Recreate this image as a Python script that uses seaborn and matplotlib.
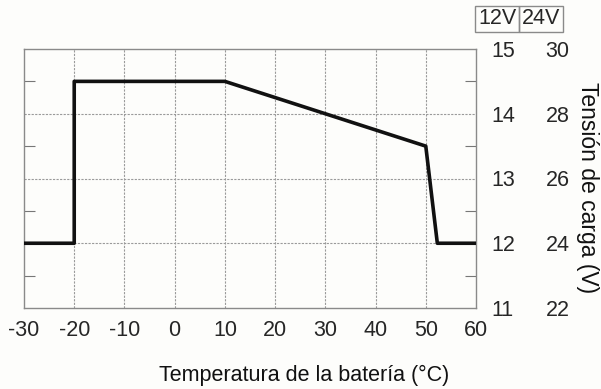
import matplotlib
matplotlib.use("Agg")
import numpy as np
import pandas as pd
import matplotlib.pyplot as plt
import seaborn as sns
from matplotlib.patches import Rectangle

# datos de la curva (tensión 12V vs temperatura)
temp = [-30, -20, -20, 10, 50, 52.3, 60]
volt12 = [12, 12, 14.5, 14.5, 13.5, 12, 12]

xticks = [-30, -20, -10, 0, 10, 20, 30, 40, 50, 60]
y12 = [11, 12, 13, 14, 15]
y24 = [22, 24, 26, 28, 30]
minor12 = [11.5, 12.5, 13.5, 14.5]

sns.set_style("white")
plt.rcParams["font.family"] = ["Liberation Sans", "DejaVu Sans"]

fs = 15.5
bg = "#fdfdfb"
fig = plt.figure(figsize=(6.01, 3.89), dpi=100, facecolor=bg)
ax = fig.add_axes([24 / 601, 1 - 308 / 389, 452 / 601, 259 / 389])
ax.set_facecolor(bg)

df = pd.DataFrame({"temp": temp, "v": volt12})
sns.lineplot(data=df, x="temp", y="v", sort=False, estimator=None,
             color="#111111", lw=2.6, ax=ax, zorder=5)

ax.set_xlim(-30, 60)
ax.set_ylim(11, 15)
ax.set_xticks(xticks)
ax.set_xticklabels([str(t) for t in xticks])
ax.set_yticks(y12)
ax.set_yticks(minor12, minor=True)

for x in xticks[1:-1]:
    ax.axvline(x, color="#9a9a9a", lw=0.8, ls=(0, (2, 1.2)), zorder=1)
for y in [12, 13, 14]:
    ax.axhline(y, color="#9a9a9a", lw=0.8, ls=(0, (2, 1.2)), zorder=1)

ax.set_xlabel("")
ax.set_ylabel("")

ax2 = ax.twinx()
ax2.set_ylim(22, 30)
ax2.set_yticks(y24)
ax2.tick_params(axis="y", length=0, labelsize=fs, pad=50, colors="#262626")
for s in ax2.spines.values():
    s.set_visible(False)

ax.tick_params(axis="x", length=0, labelsize=fs, pad=9, colors="#262626")
ax.tick_params(axis="y", which="major", length=0, left=False, right=False,
               labelleft=False, labelright=True, labelsize=fs, pad=11,
               colors="#262626")
ax.tick_params(axis="y", which="minor", direction="in", length=8, width=0.8,
               left=True, right=True, color="#777777")
for s in ax.spines.values():
    s.set_color("#8a8a8a")
    s.set_linewidth(1)

# cabecera 12V | 24V
W, H = 601, 389
for x0, lab in [(475, "12V"), (519, "24V")]:
    fig.patches.append(Rectangle((x0 / W, 1 - 32 / H), 44 / W, 26 / H,
                                 transform=fig.transFigure, fill=False,
                                 ec="#8a8a8a", lw=1))
    fig.text((x0 + 22) / W, 1 - 19 / H, lab, ha="center", va="center",
             fontsize=fs, color="#262626")

fig.text(304 / W, 1 - 375 / H, "Temperatura de la batería (°C)",
         ha="center", va="center", fontsize=fs, color="#111111")
fig.text(588 / W, 1 - 188 / H, "Tensión de carga (V)", rotation=270,
         ha="center", va="center", fontsize=16.5, color="#111111")

fig.savefig("out.png", dpi=100, facecolor=bg)
